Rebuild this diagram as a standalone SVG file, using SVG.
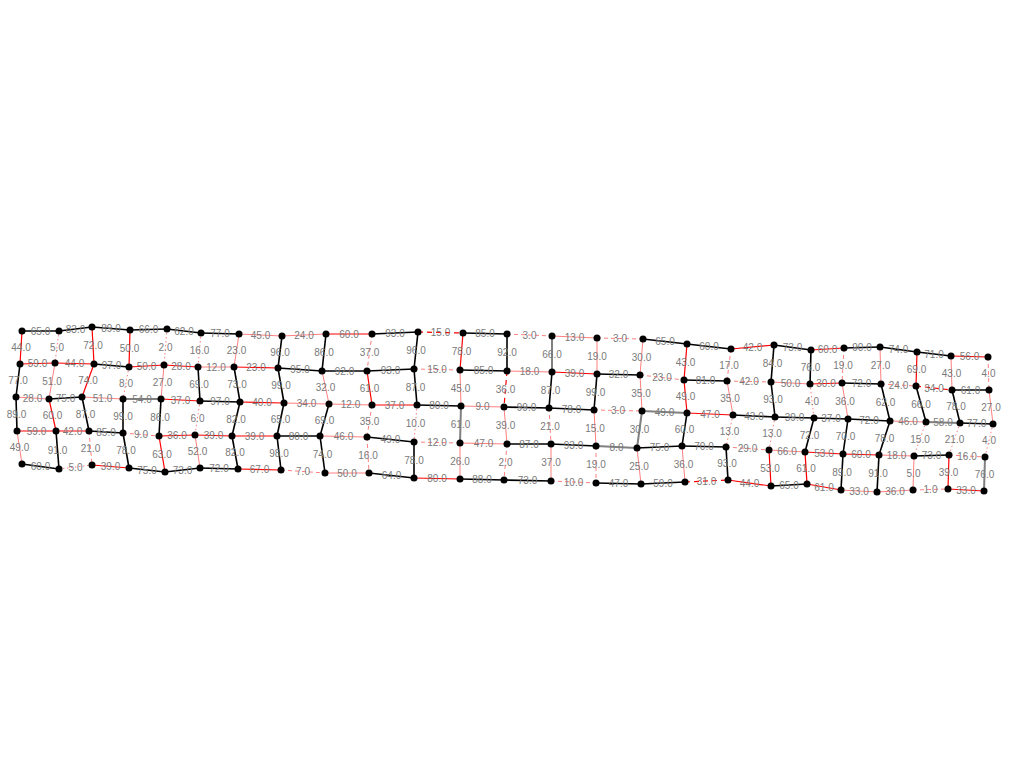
<svg xmlns="http://www.w3.org/2000/svg" width="1024" height="768" viewBox="0 0 1024 768">
<style>
line{fill:none}
.k{stroke:#000;stroke-width:1.6}
.g{stroke:#808080;stroke-width:2}
.r{stroke:#ff0000;stroke-width:1.2}
.s{stroke:#ff8080;stroke-width:1}
.rd{stroke:#ff0000;stroke-width:1.2;stroke-dasharray:5,4}
.sd{stroke:#ff8080;stroke-width:1;stroke-dasharray:4,3}
.so{stroke:#ff8080;stroke-width:1;stroke-dasharray:1.5,2.5}
text{font-family:"Liberation Sans",Arial,sans-serif;font-size:10px;fill:#7a7a7a;text-anchor:middle}
circle{fill:#000}
</style>
<rect width="1024" height="768" fill="#fff"/>
<g id="connectors">
<line class="k" x1="22" y1="331" x2="59" y2="331"/>
<line class="k" x1="59" y1="331" x2="92" y2="327"/>
<line class="k" x1="92" y1="327" x2="130" y2="330"/>
<line class="k" x1="130" y1="330" x2="167" y2="329"/>
<line class="k" x1="167" y1="329" x2="201" y2="333"/>
<line class="k" x1="201" y1="333" x2="239" y2="334"/>
<line class="s" x1="239" y1="334" x2="282" y2="336"/>
<line class="s" x1="282" y1="336" x2="326" y2="334"/>
<line class="r" x1="326" y1="334" x2="372" y2="334"/>
<line class="k" x1="372" y1="334" x2="418" y2="332"/>
<line class="rd" x1="418" y1="332" x2="463" y2="333"/>
<line class="k" x1="463" y1="333" x2="507" y2="334"/>
<line class="sd" x1="507" y1="334" x2="552" y2="336"/>
<line class="s" x1="552" y1="336" x2="597" y2="338"/>
<line class="sd" x1="597" y1="338" x2="643" y2="339"/>
<line class="k" x1="643" y1="339" x2="687" y2="344"/>
<line class="k" x1="687" y1="344" x2="731" y2="349"/>
<line class="r" x1="731" y1="349" x2="774" y2="345"/>
<line class="k" x1="774" y1="345" x2="811" y2="350"/>
<line class="r" x1="811" y1="350" x2="844" y2="348"/>
<line class="k" x1="844" y1="348" x2="880" y2="347"/>
<line class="k" x1="880" y1="347" x2="917" y2="352"/>
<line class="k" x1="917" y1="352" x2="951" y2="356"/>
<line class="r" x1="951" y1="356" x2="988" y2="357"/>

<line class="r" x1="20" y1="364" x2="55" y2="363"/>
<line class="r" x1="55" y1="363" x2="94" y2="364"/>
<line class="k" x1="94" y1="364" x2="129" y2="367"/>
<line class="r" x1="129" y1="367" x2="164" y2="365"/>
<line class="r" x1="164" y1="365" x2="198" y2="367"/>
<line class="s" x1="198" y1="367" x2="234" y2="367"/>
<line class="r" x1="234" y1="367" x2="278" y2="368"/>
<line class="k" x1="278" y1="368" x2="322" y2="371"/>
<line class="k" x1="322" y1="371" x2="367" y2="371"/>
<line class="k" x1="367" y1="371" x2="414" y2="369"/>
<line class="sd" x1="414" y1="369" x2="460" y2="370"/>
<line class="k" x1="460" y1="370" x2="507" y2="371"/>
<line class="s" x1="507" y1="371" x2="552" y2="372"/>
<line class="r" x1="552" y1="372" x2="597" y2="374"/>
<line class="k" x1="597" y1="374" x2="640" y2="375"/>
<line class="sd" x1="640" y1="375" x2="684" y2="380"/>
<line class="k" x1="684" y1="380" x2="727" y2="381"/>
<line class="sd" x1="727" y1="381" x2="771" y2="382"/>
<line class="s" x1="771" y1="382" x2="810" y2="384"/>
<line class="r" x1="810" y1="384" x2="842" y2="383"/>
<line class="k" x1="842" y1="383" x2="881" y2="384"/>
<line class="sd" x1="881" y1="384" x2="916" y2="386"/>
<line class="rd" x1="916" y1="386" x2="952" y2="390"/>
<line class="k" x1="952" y1="390" x2="989" y2="390"/>

<line class="s" x1="16" y1="397" x2="49" y2="399"/>
<line class="k" x1="49" y1="399" x2="82" y2="397"/>
<line class="s" x1="82" y1="397" x2="123" y2="399"/>
<line class="g" x1="123" y1="399" x2="161" y2="399"/>
<line class="r" x1="161" y1="399" x2="200" y2="401"/>
<line class="k" x1="200" y1="401" x2="240" y2="402"/>
<line class="r" x1="240" y1="402" x2="284" y2="403"/>
<line class="s" x1="284" y1="403" x2="329" y2="404"/>
<line class="s" x1="329" y1="404" x2="372" y2="405"/>
<line class="r" x1="372" y1="405" x2="417" y2="405"/>
<line class="k" x1="417" y1="405" x2="461" y2="406"/>
<line class="s" x1="461" y1="406" x2="504" y2="407"/>
<line class="k" x1="504" y1="407" x2="549" y2="408"/>
<line class="k" x1="549" y1="408" x2="594" y2="410"/>
<line class="sd" x1="594" y1="410" x2="642" y2="411"/>
<line class="g" x1="642" y1="411" x2="687" y2="413"/>
<line class="r" x1="687" y1="413" x2="733" y2="415"/>
<line class="k" x1="733" y1="415" x2="775" y2="417"/>
<line class="k" x1="775" y1="417" x2="814" y2="418"/>
<line class="k" x1="814" y1="418" x2="848" y2="419"/>
<line class="k" x1="848" y1="419" x2="890" y2="421"/>
<line class="s" x1="890" y1="421" x2="926" y2="422"/>
<line class="g" x1="926" y1="422" x2="960" y2="423"/>
<line class="k" x1="960" y1="423" x2="993" y2="424"/>

<line class="r" x1="17" y1="431" x2="56" y2="431"/>
<line class="r" x1="56" y1="431" x2="89" y2="431"/>
<line class="k" x1="89" y1="431" x2="123" y2="433"/>
<line class="sd" x1="123" y1="433" x2="159" y2="436"/>
<line class="r" x1="159" y1="436" x2="195" y2="435"/>
<line class="r" x1="195" y1="435" x2="232" y2="436"/>
<line class="r" x1="232" y1="436" x2="277" y2="436"/>
<line class="k" x1="277" y1="436" x2="320" y2="436"/>
<line class="s" x1="320" y1="436" x2="367" y2="437"/>
<line class="k" x1="367" y1="437" x2="414" y2="442"/>
<line class="sd" x1="414" y1="442" x2="460" y2="443"/>
<line class="s" x1="460" y1="443" x2="507" y2="444"/>
<line class="k" x1="507" y1="444" x2="551" y2="444"/>
<line class="k" x1="551" y1="444" x2="596" y2="446"/>
<line class="g" x1="596" y1="446" x2="637" y2="448"/>
<line class="k" x1="637" y1="448" x2="682" y2="446"/>
<line class="k" x1="682" y1="446" x2="726" y2="447"/>
<line class="sd" x1="726" y1="447" x2="769" y2="450"/>
<line class="s" x1="769" y1="450" x2="805" y2="452"/>
<line class="r" x1="805" y1="452" x2="843" y2="454"/>
<line class="r" x1="843" y1="454" x2="879" y2="455"/>
<line class="s" x1="879" y1="455" x2="914" y2="456"/>
<line class="k" x1="914" y1="456" x2="949" y2="455"/>
<line class="sd" x1="949" y1="455" x2="985" y2="457"/>

<line class="k" x1="22" y1="464" x2="59" y2="469"/>
<line class="so" x1="59" y1="469" x2="92" y2="465"/>
<line class="r" x1="92" y1="465" x2="129" y2="468"/>
<line class="k" x1="129" y1="468" x2="165" y2="472"/>
<line class="k" x1="165" y1="472" x2="200" y2="468"/>
<line class="k" x1="200" y1="468" x2="238" y2="469"/>
<line class="r" x1="238" y1="469" x2="281" y2="470"/>
<line class="sd" x1="281" y1="470" x2="325" y2="473"/>
<line class="s" x1="325" y1="473" x2="369" y2="473"/>
<line class="k" x1="369" y1="473" x2="414" y2="478"/>
<line class="r" x1="414" y1="478" x2="460" y2="479"/>
<line class="k" x1="460" y1="479" x2="504" y2="480"/>
<line class="k" x1="504" y1="480" x2="551" y2="481"/>
<line class="sd" x1="551" y1="481" x2="596" y2="483"/>
<line class="k" x1="596" y1="483" x2="641" y2="484"/>
<line class="k" x1="641" y1="484" x2="685" y2="482"/>
<line class="rd" x1="685" y1="482" x2="728" y2="480"/>
<line class="r" x1="728" y1="480" x2="771" y2="486"/>
<line class="k" x1="771" y1="486" x2="807" y2="484"/>
<line class="r" x1="807" y1="484" x2="841" y2="490"/>
<line class="s" x1="841" y1="490" x2="877" y2="492"/>
<line class="s" x1="877" y1="492" x2="913" y2="490"/>
<line class="sd" x1="913" y1="490" x2="948" y2="489"/>
<line class="r" x1="948" y1="489" x2="984" y2="491"/>

<line class="r" x1="22" y1="331" x2="20" y2="364"/>
<line class="so" x1="59" y1="331" x2="55" y2="363"/>
<line class="r" x1="92" y1="327" x2="94" y2="364"/>
<line class="r" x1="130" y1="330" x2="129" y2="367"/>
<line class="so" x1="167" y1="329" x2="164" y2="365"/>
<line class="so" x1="201" y1="333" x2="198" y2="367"/>
<line class="s" x1="239" y1="334" x2="234" y2="367"/>
<line class="k" x1="282" y1="336" x2="278" y2="368"/>
<line class="k" x1="326" y1="334" x2="322" y2="371"/>
<line class="sd" x1="372" y1="334" x2="367" y2="371"/>
<line class="k" x1="418" y1="332" x2="414" y2="369"/>
<line class="r" x1="463" y1="333" x2="460" y2="370"/>
<line class="k" x1="507" y1="334" x2="507" y2="371"/>
<line class="g" x1="552" y1="336" x2="552" y2="372"/>
<line class="s" x1="597" y1="338" x2="597" y2="374"/>
<line class="s" x1="643" y1="339" x2="640" y2="375"/>
<line class="r" x1="687" y1="344" x2="684" y2="380"/>
<line class="sd" x1="731" y1="349" x2="727" y2="381"/>
<line class="k" x1="774" y1="345" x2="771" y2="382"/>
<line class="k" x1="811" y1="350" x2="810" y2="384"/>
<line class="sd" x1="844" y1="348" x2="842" y2="383"/>
<line class="s" x1="880" y1="347" x2="881" y2="384"/>
<line class="r" x1="917" y1="352" x2="916" y2="386"/>
<line class="s" x1="951" y1="356" x2="952" y2="390"/>
<line class="sd" x1="988" y1="357" x2="989" y2="390"/>

<line class="k" x1="20" y1="364" x2="16" y2="397"/>
<line class="s" x1="55" y1="363" x2="49" y2="399"/>
<line class="r" x1="94" y1="364" x2="82" y2="397"/>
<line class="so" x1="129" y1="367" x2="123" y2="399"/>
<line class="s" x1="164" y1="365" x2="161" y2="399"/>
<line class="k" x1="198" y1="367" x2="200" y2="401"/>
<line class="k" x1="234" y1="367" x2="240" y2="402"/>
<line class="k" x1="278" y1="368" x2="284" y2="403"/>
<line class="s" x1="322" y1="371" x2="329" y2="404"/>
<line class="r" x1="367" y1="371" x2="372" y2="405"/>
<line class="k" x1="414" y1="369" x2="417" y2="405"/>
<line class="s" x1="460" y1="370" x2="461" y2="406"/>
<line class="rd" x1="507" y1="371" x2="504" y2="407"/>
<line class="k" x1="552" y1="372" x2="549" y2="408"/>
<line class="k" x1="597" y1="374" x2="594" y2="410"/>
<line class="s" x1="640" y1="375" x2="642" y2="411"/>
<line class="r" x1="684" y1="380" x2="687" y2="413"/>
<line class="s" x1="727" y1="381" x2="733" y2="415"/>
<line class="k" x1="771" y1="382" x2="775" y2="417"/>
<line class="so" x1="810" y1="384" x2="814" y2="418"/>
<line class="s" x1="842" y1="383" x2="848" y2="419"/>
<line class="k" x1="881" y1="384" x2="890" y2="421"/>
<line class="k" x1="916" y1="386" x2="926" y2="422"/>
<line class="k" x1="952" y1="390" x2="960" y2="423"/>
<line class="s" x1="989" y1="390" x2="993" y2="424"/>

<line class="k" x1="16" y1="397" x2="17" y2="431"/>
<line class="r" x1="49" y1="399" x2="56" y2="431"/>
<line class="k" x1="82" y1="397" x2="89" y2="431"/>
<line class="k" x1="123" y1="399" x2="123" y2="433"/>
<line class="k" x1="161" y1="399" x2="159" y2="436"/>
<line class="so" x1="200" y1="401" x2="195" y2="435"/>
<line class="k" x1="240" y1="402" x2="232" y2="436"/>
<line class="k" x1="284" y1="403" x2="277" y2="436"/>
<line class="k" x1="329" y1="404" x2="320" y2="436"/>
<line class="sd" x1="372" y1="405" x2="367" y2="437"/>
<line class="so" x1="417" y1="405" x2="414" y2="442"/>
<line class="g" x1="461" y1="406" x2="460" y2="443"/>
<line class="s" x1="504" y1="407" x2="507" y2="444"/>
<line class="sd" x1="549" y1="408" x2="551" y2="444"/>
<line class="s" x1="594" y1="410" x2="596" y2="446"/>
<line class="g" x1="642" y1="411" x2="637" y2="448"/>
<line class="k" x1="687" y1="413" x2="682" y2="446"/>
<line class="so" x1="733" y1="415" x2="726" y2="447"/>
<line class="so" x1="775" y1="417" x2="769" y2="450"/>
<line class="k" x1="814" y1="418" x2="805" y2="452"/>
<line class="k" x1="848" y1="419" x2="843" y2="454"/>
<line class="k" x1="890" y1="421" x2="879" y2="455"/>
<line class="so" x1="926" y1="422" x2="914" y2="456"/>
<line class="so" x1="960" y1="423" x2="949" y2="455"/>
<line class="so" x1="993" y1="424" x2="985" y2="457"/>

<line class="s" x1="17" y1="431" x2="22" y2="464"/>
<line class="k" x1="56" y1="431" x2="59" y2="469"/>
<line class="sd" x1="89" y1="431" x2="92" y2="465"/>
<line class="k" x1="123" y1="433" x2="129" y2="468"/>
<line class="r" x1="159" y1="436" x2="165" y2="472"/>
<line class="s" x1="195" y1="435" x2="200" y2="468"/>
<line class="k" x1="232" y1="436" x2="238" y2="469"/>
<line class="k" x1="277" y1="436" x2="281" y2="470"/>
<line class="k" x1="320" y1="436" x2="325" y2="473"/>
<line class="sd" x1="367" y1="437" x2="369" y2="473"/>
<line class="k" x1="414" y1="442" x2="414" y2="478"/>
<line class="s" x1="460" y1="443" x2="460" y2="479"/>
<line class="sd" x1="507" y1="444" x2="504" y2="480"/>
<line class="s" x1="551" y1="444" x2="551" y2="481"/>
<line class="sd" x1="596" y1="446" x2="596" y2="483"/>
<line class="s" x1="637" y1="448" x2="641" y2="484"/>
<line class="s" x1="682" y1="446" x2="685" y2="482"/>
<line class="k" x1="726" y1="447" x2="728" y2="480"/>
<line class="r" x1="769" y1="450" x2="771" y2="486"/>
<line class="r" x1="805" y1="452" x2="807" y2="484"/>
<line class="k" x1="843" y1="454" x2="841" y2="490"/>
<line class="k" x1="879" y1="455" x2="877" y2="492"/>
<line class="s" x1="914" y1="456" x2="913" y2="490"/>
<line class="r" x1="949" y1="455" x2="948" y2="489"/>
<line class="g" x1="985" y1="457" x2="984" y2="491"/>
</g>
<g id="edge-labels">
<text x="40.5" y="334.5">65.0</text><text x="75.5" y="332.5">83.0</text><text x="111" y="332">89.0</text><text x="148.5" y="333">66.0</text><text x="184" y="334.5">62.0</text><text x="220" y="337">77.0</text><text x="260.5" y="338.5">45.0</text><text x="304" y="338.5">24.0</text><text x="349" y="337.5">60.0</text><text x="395" y="336.5">93.0</text><text x="440.5" y="336">15.0</text><text x="485" y="337">85.0</text><text x="529.5" y="338.5">3.0</text><text x="574.5" y="340.5">13.0</text><text x="620" y="342">3.0</text><text x="665" y="345">65.0</text><text x="709" y="350">60.0</text><text x="752.5" y="350.5">42.0</text><text x="792.5" y="351">73.0</text><text x="827.5" y="352.5">60.0</text><text x="862" y="351">90.0</text><text x="898.5" y="353">74.0</text><text x="934" y="357.5">71.0</text><text x="969.5" y="360">56.0</text>

<text x="37.5" y="367">59.0</text><text x="74.5" y="367">44.0</text><text x="111.5" y="369">97.0</text><text x="146.5" y="369.5">50.0</text><text x="181" y="369.5">28.0</text><text x="216" y="370.5">12.0</text><text x="256" y="371">23.0</text><text x="300" y="373">95.0</text><text x="344.5" y="374.5">92.0</text><text x="390.5" y="373.5">93.0</text><text x="437" y="373">15.0</text><text x="483.5" y="374">85.0</text><text x="529.5" y="375">18.0</text><text x="574.5" y="376.5">39.0</text><text x="618.5" y="378">32.0</text><text x="662" y="381">23.0</text><text x="705.5" y="384">81.0</text><text x="749" y="385">42.0</text><text x="790.5" y="386.5">50.0</text><text x="826" y="387">30.0</text><text x="861.5" y="387">72.0</text><text x="898.5" y="388.5">24.0</text><text x="934" y="391.5">34.0</text><text x="970.5" y="393.5">61.0</text>

<text x="32.5" y="401.5">28.0</text><text x="65.5" y="401.5">75.0</text><text x="102.5" y="401.5">51.0</text><text x="142" y="402.5">54.0</text><text x="180.5" y="403.5">37.0</text><text x="220" y="405">97.0</text><text x="262" y="406">40.0</text><text x="306.5" y="407">34.0</text><text x="350.5" y="408">12.0</text><text x="394.5" y="408.5">37.0</text><text x="439" y="409">80.0</text><text x="482.5" y="410">9.0</text><text x="526.5" y="411">99.0</text><text x="571.5" y="412.5">78.0</text><text x="618" y="414">3.0</text><text x="664.5" y="415.5">49.0</text><text x="710" y="417.5">47.0</text><text x="754" y="419.5">43.0</text><text x="794.5" y="421">39.0</text><text x="831" y="422">37.0</text><text x="869" y="423.5">72.0</text><text x="908" y="425">46.0</text><text x="943" y="426">58.0</text><text x="976.5" y="427">77.0</text>

<text x="36.5" y="434.5">59.0</text><text x="72.5" y="434.5">42.0</text><text x="106" y="435.5">85.0</text><text x="141" y="438">9.0</text><text x="177" y="439">36.0</text><text x="213.5" y="439">39.0</text><text x="254.5" y="439.5">39.0</text><text x="298.5" y="439.5">80.0</text><text x="343.5" y="440">46.0</text><text x="390.5" y="443">49.0</text><text x="437" y="446">12.0</text><text x="483.5" y="447">47.0</text><text x="529" y="447.5">87.0</text><text x="573.5" y="448.5">93.0</text><text x="616.5" y="450.5">8.0</text><text x="659.5" y="450.5">75.0</text><text x="704" y="450">70.0</text><text x="747.5" y="452">29.0</text><text x="787" y="454.5">66.0</text><text x="824" y="456.5">53.0</text><text x="861" y="458">60.0</text><text x="896.5" y="459">18.0</text><text x="931.5" y="459">73.0</text><text x="967" y="459.5">16.0</text>

<text x="40.5" y="470">60.0</text><text x="75.5" y="470.5">5.0</text><text x="110.5" y="470">39.0</text><text x="147" y="473.5">75.0</text><text x="182.5" y="473.5">73.0</text><text x="219" y="472">72.0</text><text x="259.5" y="473">67.0</text><text x="303" y="475">7.0</text><text x="347" y="476.5">50.0</text><text x="391.5" y="479">64.0</text><text x="437" y="482">80.0</text><text x="482" y="483">88.0</text><text x="527.5" y="484">73.0</text><text x="573.5" y="485.5">10.0</text><text x="618.5" y="487">47.0</text><text x="663" y="486.5">59.0</text><text x="706.5" y="484.5">31.0</text><text x="749.5" y="486.5">44.0</text><text x="789" y="488.5">65.0</text><text x="824" y="490.5">61.0</text><text x="859" y="494.5">33.0</text><text x="895" y="494.5">36.0</text><text x="930.5" y="493">1.0</text><text x="966" y="493.5">33.0</text>

<text x="21" y="351">44.0</text><text x="57" y="350.5">5.0</text><text x="93" y="349">72.0</text><text x="129.5" y="352">50.0</text><text x="165.5" y="350.5">2.0</text><text x="199.5" y="353.5">16.0</text><text x="236.5" y="354">23.0</text><text x="280" y="355.5">96.0</text><text x="324" y="356">86.0</text><text x="369.5" y="356">37.0</text><text x="416" y="354">96.0</text><text x="461.5" y="355">78.0</text><text x="507" y="356">92.0</text><text x="552" y="357.5">66.0</text><text x="597" y="359.5">19.0</text><text x="641.5" y="360.5">30.0</text><text x="685.5" y="365.5">43.0</text><text x="729" y="368.5">17.0</text><text x="772.5" y="367">84.0</text><text x="810.5" y="370.5">76.0</text><text x="843" y="369">19.0</text><text x="880.5" y="369">27.0</text><text x="916.5" y="372.5">69.0</text><text x="951.5" y="376.5">43.0</text><text x="988.5" y="377">4.0</text>

<text x="18" y="384">77.0</text><text x="52" y="384.5">51.0</text><text x="88" y="384">74.0</text><text x="126" y="386.5">8.0</text><text x="162.5" y="385.5">27.0</text><text x="199" y="387.5">69.0</text><text x="237" y="388">73.0</text><text x="281" y="389">99.0</text><text x="325.5" y="391">32.0</text><text x="369.5" y="391.5">61.0</text><text x="415.5" y="390.5">87.0</text><text x="460.5" y="391.5">45.0</text><text x="505.5" y="392.5">36.0</text><text x="550.5" y="393.5">87.0</text><text x="595.5" y="395.5">99.0</text><text x="641" y="396.5">35.0</text><text x="685.5" y="400">49.0</text><text x="730" y="401.5">35.0</text><text x="773" y="403">93.0</text><text x="812" y="404.5">4.0</text><text x="845" y="404.5">36.0</text><text x="885.5" y="406">62.0</text><text x="921" y="407.5">66.0</text><text x="956" y="410">78.0</text><text x="991" y="410.5">27.0</text>

<text x="16.5" y="417.5">89.0</text><text x="52.5" y="418.5">60.0</text><text x="85.5" y="417.5">87.0</text><text x="123" y="419.5">99.0</text><text x="160" y="421">86.0</text><text x="197.5" y="421.5">6.0</text><text x="236" y="422.5">82.0</text><text x="280.5" y="423">65.0</text><text x="324.5" y="423.5">69.0</text><text x="369.5" y="424.5">35.0</text><text x="415.5" y="427">10.0</text><text x="460.5" y="428">61.0</text><text x="505.5" y="429">39.0</text><text x="550" y="429.5">21.0</text><text x="595" y="431.5">15.0</text><text x="639.5" y="433">30.0</text><text x="684.5" y="433">60.0</text><text x="729.5" y="434.5">13.0</text><text x="772" y="437">13.0</text><text x="809.5" y="438.5">72.0</text><text x="845.5" y="440">70.0</text><text x="884.5" y="441.5">78.0</text><text x="920" y="442.5">15.0</text><text x="954.5" y="442.5">21.0</text><text x="989" y="444">4.0</text>

<text x="19.5" y="451">49.0</text><text x="57.5" y="453.5">91.0</text><text x="90.5" y="451.5">21.0</text><text x="126" y="454">78.0</text><text x="162" y="457.5">63.0</text><text x="197.5" y="455">52.0</text><text x="235" y="456">82.0</text><text x="279" y="456.5">98.0</text><text x="322.5" y="458">74.0</text><text x="368" y="458.5">16.0</text><text x="414" y="463.5">78.0</text><text x="460" y="464.5">26.0</text><text x="505.5" y="465.5">2.0</text><text x="551" y="466">37.0</text><text x="596" y="468">19.0</text><text x="639" y="469.5">25.0</text><text x="683.5" y="467.5">36.0</text><text x="727" y="467">93.0</text><text x="770" y="471.5">53.0</text><text x="806" y="471.5">61.0</text><text x="842" y="475.5">89.0</text><text x="878" y="477">91.0</text><text x="913.5" y="476.5">5.0</text><text x="948.5" y="475.5">39.0</text><text x="984.5" y="477.5">76.0</text>
</g>
<g id="nodes">
<g id="A1"><circle cx="22" cy="331" r="3.5"/></g><g id="A2"><circle cx="59" cy="331" r="3.5"/></g><g id="A3"><circle cx="92" cy="327" r="3.5"/></g><g id="A4"><circle cx="130" cy="330" r="3.5"/></g><g id="A5"><circle cx="167" cy="329" r="3.5"/></g><g id="A6"><circle cx="201" cy="333" r="3.5"/></g><g id="A7"><circle cx="239" cy="334" r="3.5"/></g><g id="A8"><circle cx="282" cy="336" r="3.5"/></g><g id="A9"><circle cx="326" cy="334" r="3.5"/></g><g id="A10"><circle cx="372" cy="334" r="3.5"/></g><g id="A11"><circle cx="418" cy="332" r="3.5"/></g><g id="A12"><circle cx="463" cy="333" r="3.5"/></g><g id="A13"><circle cx="507" cy="334" r="3.5"/></g><g id="A14"><circle cx="552" cy="336" r="3.5"/></g><g id="A15"><circle cx="597" cy="338" r="3.5"/></g><g id="A16"><circle cx="643" cy="339" r="3.5"/></g><g id="A17"><circle cx="687" cy="344" r="3.5"/></g><g id="A18"><circle cx="731" cy="349" r="3.5"/></g><g id="A19"><circle cx="774" cy="345" r="3.5"/></g><g id="A20"><circle cx="811" cy="350" r="3.5"/></g><g id="A21"><circle cx="844" cy="348" r="3.5"/></g><g id="A22"><circle cx="880" cy="347" r="3.5"/></g><g id="A23"><circle cx="917" cy="352" r="3.5"/></g><g id="A24"><circle cx="951" cy="356" r="3.5"/></g><g id="A25"><circle cx="988" cy="357" r="3.5"/></g>
<g id="B1"><circle cx="20" cy="364" r="3.5"/></g><g id="B2"><circle cx="55" cy="363" r="3.5"/></g><g id="B3"><circle cx="94" cy="364" r="3.5"/></g><g id="B4"><circle cx="129" cy="367" r="3.5"/></g><g id="B5"><circle cx="164" cy="365" r="3.5"/></g><g id="B6"><circle cx="198" cy="367" r="3.5"/></g><g id="B7"><circle cx="234" cy="367" r="3.5"/></g><g id="B8"><circle cx="278" cy="368" r="3.5"/></g><g id="B9"><circle cx="322" cy="371" r="3.5"/></g><g id="B10"><circle cx="367" cy="371" r="3.5"/></g><g id="B11"><circle cx="414" cy="369" r="3.5"/></g><g id="B12"><circle cx="460" cy="370" r="3.5"/></g><g id="B13"><circle cx="507" cy="371" r="3.5"/></g><g id="B14"><circle cx="552" cy="372" r="3.5"/></g><g id="B15"><circle cx="597" cy="374" r="3.5"/></g><g id="B16"><circle cx="640" cy="375" r="3.5"/></g><g id="B17"><circle cx="684" cy="380" r="3.5"/></g><g id="B18"><circle cx="727" cy="381" r="3.5"/></g><g id="B19"><circle cx="771" cy="382" r="3.5"/></g><g id="B20"><circle cx="810" cy="384" r="3.5"/></g><g id="B21"><circle cx="842" cy="383" r="3.5"/></g><g id="B22"><circle cx="881" cy="384" r="3.5"/></g><g id="B23"><circle cx="916" cy="386" r="3.5"/></g><g id="B24"><circle cx="952" cy="390" r="3.5"/></g><g id="B25"><circle cx="989" cy="390" r="3.5"/></g>
<g id="C1"><circle cx="16" cy="397" r="3.5"/></g><g id="C2"><circle cx="49" cy="399" r="3.5"/></g><g id="C3"><circle cx="82" cy="397" r="3.5"/></g><g id="C4"><circle cx="123" cy="399" r="3.5"/></g><g id="C5"><circle cx="161" cy="399" r="3.5"/></g><g id="C6"><circle cx="200" cy="401" r="3.5"/></g><g id="C7"><circle cx="240" cy="402" r="3.5"/></g><g id="C8"><circle cx="284" cy="403" r="3.5"/></g><g id="C9"><circle cx="329" cy="404" r="3.5"/></g><g id="C10"><circle cx="372" cy="405" r="3.5"/></g><g id="C11"><circle cx="417" cy="405" r="3.5"/></g><g id="C12"><circle cx="461" cy="406" r="3.5"/></g><g id="C13"><circle cx="504" cy="407" r="3.5"/></g><g id="C14"><circle cx="549" cy="408" r="3.5"/></g><g id="C15"><circle cx="594" cy="410" r="3.5"/></g><g id="C16"><circle cx="642" cy="411" r="3.5"/></g><g id="C17"><circle cx="687" cy="413" r="3.5"/></g><g id="C18"><circle cx="733" cy="415" r="3.5"/></g><g id="C19"><circle cx="775" cy="417" r="3.5"/></g><g id="C20"><circle cx="814" cy="418" r="3.5"/></g><g id="C21"><circle cx="848" cy="419" r="3.5"/></g><g id="C22"><circle cx="890" cy="421" r="3.5"/></g><g id="C23"><circle cx="926" cy="422" r="3.5"/></g><g id="C24"><circle cx="960" cy="423" r="3.5"/></g><g id="C25"><circle cx="993" cy="424" r="3.5"/></g>
<g id="D1"><circle cx="17" cy="431" r="3.5"/></g><g id="D2"><circle cx="56" cy="431" r="3.5"/></g><g id="D3"><circle cx="89" cy="431" r="3.5"/></g><g id="D4"><circle cx="123" cy="433" r="3.5"/></g><g id="D5"><circle cx="159" cy="436" r="3.5"/></g><g id="D6"><circle cx="195" cy="435" r="3.5"/></g><g id="D7"><circle cx="232" cy="436" r="3.5"/></g><g id="D8"><circle cx="277" cy="436" r="3.5"/></g><g id="D9"><circle cx="320" cy="436" r="3.5"/></g><g id="D10"><circle cx="367" cy="437" r="3.5"/></g><g id="D11"><circle cx="414" cy="442" r="3.5"/></g><g id="D12"><circle cx="460" cy="443" r="3.5"/></g><g id="D13"><circle cx="507" cy="444" r="3.5"/></g><g id="D14"><circle cx="551" cy="444" r="3.5"/></g><g id="D15"><circle cx="596" cy="446" r="3.5"/></g><g id="D16"><circle cx="637" cy="448" r="3.5"/></g><g id="D17"><circle cx="682" cy="446" r="3.5"/></g><g id="D18"><circle cx="726" cy="447" r="3.5"/></g><g id="D19"><circle cx="769" cy="450" r="3.5"/></g><g id="D20"><circle cx="805" cy="452" r="3.5"/></g><g id="D21"><circle cx="843" cy="454" r="3.5"/></g><g id="D22"><circle cx="879" cy="455" r="3.5"/></g><g id="D23"><circle cx="914" cy="456" r="3.5"/></g><g id="D24"><circle cx="949" cy="455" r="3.5"/></g><g id="D25"><circle cx="985" cy="457" r="3.5"/></g>
<g id="E1"><circle cx="22" cy="464" r="3.5"/></g><g id="E2"><circle cx="59" cy="469" r="3.5"/></g><g id="E3"><circle cx="92" cy="465" r="3.5"/></g><g id="E4"><circle cx="129" cy="468" r="3.5"/></g><g id="E5"><circle cx="165" cy="472" r="3.5"/></g><g id="E6"><circle cx="200" cy="468" r="3.5"/></g><g id="E7"><circle cx="238" cy="469" r="3.5"/></g><g id="E8"><circle cx="281" cy="470" r="3.5"/></g><g id="E9"><circle cx="325" cy="473" r="3.5"/></g><g id="E10"><circle cx="369" cy="473" r="3.5"/></g><g id="E11"><circle cx="414" cy="478" r="3.5"/></g><g id="E12"><circle cx="460" cy="479" r="3.5"/></g><g id="E13"><circle cx="504" cy="480" r="3.5"/></g><g id="E14"><circle cx="551" cy="481" r="3.5"/></g><g id="E15"><circle cx="596" cy="483" r="3.5"/></g><g id="E16"><circle cx="641" cy="484" r="3.5"/></g><g id="E17"><circle cx="685" cy="482" r="3.5"/></g><g id="E18"><circle cx="728" cy="480" r="3.5"/></g><g id="E19"><circle cx="771" cy="486" r="3.5"/></g><g id="E20"><circle cx="807" cy="484" r="3.5"/></g><g id="E21"><circle cx="841" cy="490" r="3.5"/></g><g id="E22"><circle cx="877" cy="492" r="3.5"/></g><g id="E23"><circle cx="913" cy="490" r="3.5"/></g><g id="E24"><circle cx="948" cy="489" r="3.5"/></g><g id="E25"><circle cx="984" cy="491" r="3.5"/></g>
</g>
</svg>
